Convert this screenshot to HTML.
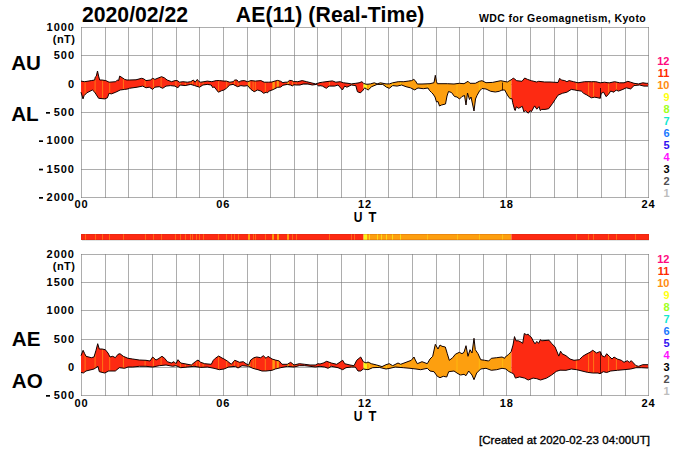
<!DOCTYPE html><html><head><meta charset="utf-8"><style>html,body{margin:0;padding:0;background:#fff;width:700px;height:450px;overflow:hidden}svg{display:block}text{font-family:"Liberation Sans",sans-serif;font-weight:bold}</style></head><body>
<svg width="700" height="450" viewBox="0 0 700 450">
<rect width="700" height="450" fill="#fff"/>
<path d="M81.5,27 V198 M105.5,27 V198 M128.5,27 V198 M152.5,27 V198 M176.5,27 V198 M199.5,27 V198 M223.5,27 V198 M247.5,27 V198 M270.5,27 V198 M294.5,27 V198 M317.5,27 V198 M341.5,27 V198 M365.5,27 V198 M388.5,27 V198 M412.5,27 V198 M436.5,27 V198 M459.5,27 V198 M483.5,27 V198 M506.5,27 V198 M530.5,27 V198 M554.5,27 V198 M577.5,27 V198 M601.5,27 V198 M625.5,27 V198 M648.5,27 V198" stroke="#7a7a7a" stroke-opacity="0.62" stroke-width="1" fill="none"/>
<path d="M81,27.5 H649 M81,55.5 H649 M81,84.5 H649 M81,112.5 H649 M81,140.5 H649 M81,169.5 H649 M81,197.5 H649" stroke="#7a7a7a" stroke-opacity="0.62" stroke-width="1" fill="none"/>
<path d="M81.5,254 V396 M105.5,254 V396 M128.5,254 V396 M152.5,254 V396 M176.5,254 V396 M199.5,254 V396 M223.5,254 V396 M247.5,254 V396 M270.5,254 V396 M294.5,254 V396 M317.5,254 V396 M341.5,254 V396 M365.5,254 V396 M388.5,254 V396 M412.5,254 V396 M436.5,254 V396 M459.5,254 V396 M483.5,254 V396 M506.5,254 V396 M530.5,254 V396 M554.5,254 V396 M577.5,254 V396 M601.5,254 V396 M625.5,254 V396 M648.5,254 V396" stroke="#7a7a7a" stroke-opacity="0.62" stroke-width="1" fill="none"/>
<path d="M81,254.5 H649 M81,282.5 H649 M81,310.5 H649 M81,339.5 H649 M81,367.5 H649 M81,395.5 H649" stroke="#7a7a7a" stroke-opacity="0.62" stroke-width="1" fill="none"/>
<clipPath id="c1"><path d="M81,81.1 L84.7,81.7 L91.3,80.6 L94.7,80 L95.2,77.2 L96.3,76.1 L97.5,71 L98.6,76.1 L99.7,80 L101.9,80 L105.8,80.6 L109.1,82.2 L115.8,81.7 L117.4,80 L118.6,80.6 L119.7,76.1 L122.4,77.8 L124.7,79.4 L126.9,80 L129.3,80 L136,79.8 L141.6,78.3 L143.8,78.9 L146,80.6 L150.4,80 L152.7,78.3 L154.9,79.4 L158.2,78 L161.6,76.7 L164.3,77.8 L167.1,80 L171.6,81.7 L174.9,80.6 L177.3,80.6 L179.6,82.2 L182.9,81.7 L187.3,82.2 L190.7,81.7 L193.4,80 L195.1,82.2 L197.3,79.4 L199,81.7 L200.7,82.2 L204,81.7 L207.3,81.1 L211.8,81.7 L216.2,80.6 L219.6,80.6 L224,81.1 L226.4,81.1 L229.8,82.2 L233.1,81.7 L234.8,80 L237,80 L238.7,82.2 L240.9,80.9 L244.2,80.6 L247.6,81.7 L250.9,80.6 L255.3,81.1 L260.9,80.6 L264.2,82.2 L268.7,82.2 L272,82 L274,81.3 L277.6,80.4 L280.7,81.3 L282.9,82.7 L285.1,82.2 L287.3,82.2 L289.6,80.4 L291.8,80.6 L293.6,81.6 L297.8,81.7 L302.2,80.6 L306.7,81.7 L311.1,82.8 L315.6,83.9 L320,82.6 L322.4,82.2 L329.1,81.3 L332.4,80.9 L335.8,82.2 L340.2,81.7 L343.6,82.8 L348,83.3 L351.3,83.9 L355.8,83.3 L359.1,82.8 L361.9,81.7 L363.6,83.3 L365.8,84.2 L368,84.2 L370.4,83.9 L374.3,82.8 L377.1,83.9 L380.4,82.8 L386,83.9 L389.3,83.9 L392.7,82.8 L398.2,81.7 L403.8,81.7 L408.2,81.1 L411.6,80.6 L413.8,79.4 L415.3,80.7 L417.3,84 L422,84 L430,83.7 L434,82.7 L435.3,75.3 L436.4,81.3 L437.3,83.7 L447.3,83.7 L454,84 L459.3,83.3 L464,83.7 L468,81.3 L470,83.3 L475.3,83.3 L479.3,81.3 L482,80.7 L486,82.7 L492.7,82.4 L500.7,80.7 L507.3,82 L512,79.3 L513.3,78 L516.7,80.7 L522,81.3 L524.7,78 L527.3,79.3 L531.3,80.7 L536.7,82 L538.7,81.3 L544.7,82 L550,82 L558,82.5 L559.7,78.3 L561.3,80 L564.7,80.6 L566.9,81.7 L569.1,80.6 L573.6,81.7 L578,82.8 L584.7,81.7 L591.3,81.7 L595.8,81.7 L600.2,82.8 L604.7,82.2 L608,82.8 L609.6,82.8 L614.6,81.7 L619.6,82.8 L624,82.8 L627.9,81.3 L630.7,82.2 L634,83.3 L638.4,83.9 L642.9,82.8 L646.2,83.3 L648,83.3 L648,86.1 L644,86.1 L639.6,85 L634,85.6 L630.7,88.9 L626.2,87.8 L622.9,89.4 L618.4,91.1 L616.2,90 L614,92.2 L610.7,91.1 L608.4,94.4 L606.2,96.7 L605.8,96.1 L603.6,92.2 L601.3,93.3 L599.8,98.3 L598,97.8 L594.7,97.2 L591.3,97.8 L586.9,95 L583.6,93.3 L581.3,91.1 L578,90.6 L574.7,90 L571.3,89.4 L566.9,92.2 L562.4,93.3 L558,95.2 L555.3,99.3 L552.7,103.3 L548.7,108.7 L545,109.4 L541.7,109.4 L540.3,110.6 L539,106.6 L536.8,109.2 L534.6,105.9 L531.4,111.7 L530.1,110.6 L528.3,113.2 L525.2,110.6 L523.9,111.9 L522.3,106.3 L518.6,108.3 L516.3,106.8 L515.2,110.5 L514.7,110 L512.7,102.7 L512,98.7 L510,98.7 L508,96 L504.7,90 L502,90 L499.3,91.3 L495.3,92 L490.7,91.3 L486,89 L482,88.5 L479.5,91 L477,95.5 L475.5,99 L474,111 L471,97 L469.5,99.5 L467.5,93 L466,105 L464.5,95.5 L462,96.5 L459.5,99 L457,97 L454.5,96.5 L451.5,92.5 L448.5,91.5 L447,96 L445.5,104 L441.5,105 L439.5,106 L438,101.5 L436.5,102 L435,97 L433,94 L431.5,92.5 L429.5,90.5 L428,88 L423.3,88.7 L418,88 L416,89 L414.9,90 L410.4,87.8 L406,86.7 L401.6,85 L397.1,86.1 L392.7,85.6 L389.3,88.3 L386.6,87.2 L382.7,84.4 L377.1,84.4 L371.6,86.7 L368.2,90 L366.5,89 L364.7,87.8 L362.4,91.1 L360.2,92.8 L357.4,91.7 L355.8,85.6 L351.3,85 L346.9,87.2 L344.7,86.1 L342.4,90 L338,85 L334.7,86.1 L329.1,86.1 L326.3,88.3 L322.4,86.1 L320,85.6 L318.9,86.1 L316.7,84.4 L312.2,85 L307.8,83.9 L303.3,83.9 L300,85 L296,85 L294,84.7 L292.2,86 L290.9,85.1 L287.3,84.4 L282.9,85.3 L280.7,87.1 L277.6,87.3 L273.1,89.6 L268.7,91.3 L267.3,93.1 L266.4,92.2 L263.7,93.3 L260.9,91.1 L257.6,90 L254.2,91.7 L250.9,89.4 L247.6,85.6 L244.2,86.1 L240.9,85.6 L237.6,86.7 L233.1,84.4 L229.8,85 L226.4,88.3 L224,90 L221.8,90.6 L218.4,92.2 L214,86.7 L212.9,87.8 L211.2,85 L207.3,84.4 L202.9,85 L199.6,87.2 L194.6,85.6 L190.7,84.4 L185.1,85.6 L180.1,85 L177.9,87.8 L174.9,86.1 L170.4,85.6 L166,86.1 L162.7,88.3 L159.3,86.7 L154.9,87.2 L152.7,89.4 L149.3,87.2 L146,87.8 L142.7,86.1 L137.1,87.2 L129.3,88.3 L128,88.9 L124.7,89.4 L120.2,90 L115.8,92.2 L111.3,93.9 L109.1,93.3 L107.4,97.8 L104.7,98.9 L98.6,98.3 L94.7,92.2 L92.4,90 L86.9,92.8 L84.1,95.6 L83,98.9 L81,92.2 Z"/></clipPath>
<g clip-path="url(#c1)">
<rect x="81" y="60" width="282.6" height="60" fill="#fd2a12"/>
<rect x="363.6" y="60" width="3.4" height="60" fill="#fbf41a"/>
<rect x="367" y="60" width="144.4" height="60" fill="#fd9f0f"/>
<rect x="511.4" y="60" width="137.6" height="60" fill="#fd2a12"/>
<rect x="84.6" y="60" width="1" height="60" fill="#ff7616"/>
<rect x="94.6" y="60" width="1" height="60" fill="#ff7616"/>
<rect x="102.1" y="60" width="1" height="60" fill="#ff7616"/>
<rect x="109.2" y="60" width="1" height="60" fill="#ff7616"/>
<rect x="122.9" y="60" width="1" height="60" fill="#ff7616"/>
<rect x="144.6" y="60" width="1" height="60" fill="#ff7616"/>
<rect x="152.9" y="60" width="1" height="60" fill="#ff7616"/>
<rect x="160.6" y="60" width="1" height="60" fill="#ff7616"/>
<rect x="175.4" y="60" width="1" height="60" fill="#ff7616"/>
<rect x="179.8" y="60" width="1" height="60" fill="#ff7616"/>
<rect x="184.8" y="60" width="1" height="60" fill="#ff7616"/>
<rect x="189.8" y="60" width="1" height="60" fill="#ff7616"/>
<rect x="191.9" y="60" width="1" height="60" fill="#ff7616"/>
<rect x="196.2" y="60" width="1" height="60" fill="#ff7616"/>
<rect x="199.1" y="60" width="1" height="60" fill="#ff7616"/>
<rect x="202.6" y="60" width="1" height="60" fill="#ff7616"/>
<rect x="218.1" y="60" width="1" height="60" fill="#ff7616"/>
<rect x="226.2" y="60" width="1" height="60" fill="#ff7616"/>
<rect x="230.5" y="60" width="1" height="60" fill="#ff7616"/>
<rect x="234.1" y="60" width="1" height="60" fill="#ff7616"/>
<rect x="237.6" y="60" width="1" height="60" fill="#ff7616"/>
<rect x="247.85" y="60" width="2.5" height="60" fill="#ff9a12"/>
<rect x="252.6" y="60" width="1" height="60" fill="#ff7616"/>
<rect x="254.8" y="60" width="1" height="60" fill="#ff7616"/>
<rect x="264.8" y="60" width="1" height="60" fill="#ff7616"/>
<rect x="272.35" y="60" width="2.5" height="60" fill="#ff9a12"/>
<rect x="276.7" y="60" width="2.2" height="60" fill="#ff9a12"/>
<rect x="286.9" y="60" width="2.2" height="60" fill="#ff9a12"/>
<rect x="291.9" y="60" width="1.2" height="60" fill="#ff7616"/>
<rect x="295.6" y="60" width="1" height="60" fill="#ff7616"/>
<rect x="328.9" y="60" width="1" height="60" fill="#ff7616"/>
<rect x="351.4" y="60" width="1" height="60" fill="#ff7616"/>
<rect x="353.5" y="60" width="1" height="60" fill="#ff7616"/>
<rect x="575.9" y="60" width="1" height="60" fill="#ff7616"/>
<rect x="588.1" y="60" width="1" height="60" fill="#ff7616"/>
<rect x="593.1" y="60" width="1" height="60" fill="#ff7616"/>
<rect x="608.1" y="60" width="1" height="60" fill="#ff7616"/>
<rect x="615.9" y="60" width="1" height="60" fill="#ff7616"/>
<rect x="635.2" y="60" width="1" height="60" fill="#ff7616"/>
<rect x="368.8" y="60" width="1" height="60" fill="#ffd80f" fill-opacity="0.8"/>
<rect x="377" y="60" width="1" height="60" fill="#ffd80f" fill-opacity="0.8"/>
<rect x="380.5" y="60" width="1" height="60" fill="#ffd80f" fill-opacity="0.8"/>
<rect x="385.8" y="60" width="1" height="60" fill="#ffd80f" fill-opacity="0.8"/>
<rect x="392" y="60" width="1" height="60" fill="#ffd80f" fill-opacity="0.8"/>
<rect x="400.1" y="60" width="1" height="60" fill="#ffd80f" fill-opacity="0.8"/>
<rect x="427.2" y="60" width="1" height="60" fill="#ffd80f" fill-opacity="0.48"/>
<rect x="456.5" y="60" width="1" height="60" fill="#ffd80f" fill-opacity="0.48"/>
<rect x="478.8" y="60" width="1" height="60" fill="#ffd80f" fill-opacity="0.48"/>
<rect x="502.1" y="60" width="1" height="60" fill="#ffd80f" fill-opacity="0.48"/>
</g>
<path d="M81,81.1 L84.7,81.7 L91.3,80.6 L94.7,80 L95.2,77.2 L96.3,76.1 L97.5,71 L98.6,76.1 L99.7,80 L101.9,80 L105.8,80.6 L109.1,82.2 L115.8,81.7 L117.4,80 L118.6,80.6 L119.7,76.1 L122.4,77.8 L124.7,79.4 L126.9,80 L129.3,80 L136,79.8 L141.6,78.3 L143.8,78.9 L146,80.6 L150.4,80 L152.7,78.3 L154.9,79.4 L158.2,78 L161.6,76.7 L164.3,77.8 L167.1,80 L171.6,81.7 L174.9,80.6 L177.3,80.6 L179.6,82.2 L182.9,81.7 L187.3,82.2 L190.7,81.7 L193.4,80 L195.1,82.2 L197.3,79.4 L199,81.7 L200.7,82.2 L204,81.7 L207.3,81.1 L211.8,81.7 L216.2,80.6 L219.6,80.6 L224,81.1 L226.4,81.1 L229.8,82.2 L233.1,81.7 L234.8,80 L237,80 L238.7,82.2 L240.9,80.9 L244.2,80.6 L247.6,81.7 L250.9,80.6 L255.3,81.1 L260.9,80.6 L264.2,82.2 L268.7,82.2 L272,82 L274,81.3 L277.6,80.4 L280.7,81.3 L282.9,82.7 L285.1,82.2 L287.3,82.2 L289.6,80.4 L291.8,80.6 L293.6,81.6 L297.8,81.7 L302.2,80.6 L306.7,81.7 L311.1,82.8 L315.6,83.9 L320,82.6 L322.4,82.2 L329.1,81.3 L332.4,80.9 L335.8,82.2 L340.2,81.7 L343.6,82.8 L348,83.3 L351.3,83.9 L355.8,83.3 L359.1,82.8 L361.9,81.7 L363.6,83.3 L365.8,84.2 L368,84.2 L370.4,83.9 L374.3,82.8 L377.1,83.9 L380.4,82.8 L386,83.9 L389.3,83.9 L392.7,82.8 L398.2,81.7 L403.8,81.7 L408.2,81.1 L411.6,80.6 L413.8,79.4 L415.3,80.7 L417.3,84 L422,84 L430,83.7 L434,82.7 L435.3,75.3 L436.4,81.3 L437.3,83.7 L447.3,83.7 L454,84 L459.3,83.3 L464,83.7 L468,81.3 L470,83.3 L475.3,83.3 L479.3,81.3 L482,80.7 L486,82.7 L492.7,82.4 L500.7,80.7 L507.3,82 L512,79.3 L513.3,78 L516.7,80.7 L522,81.3 L524.7,78 L527.3,79.3 L531.3,80.7 L536.7,82 L538.7,81.3 L544.7,82 L550,82 L558,82.5 L559.7,78.3 L561.3,80 L564.7,80.6 L566.9,81.7 L569.1,80.6 L573.6,81.7 L578,82.8 L584.7,81.7 L591.3,81.7 L595.8,81.7 L600.2,82.8 L604.7,82.2 L608,82.8 L609.6,82.8 L614.6,81.7 L619.6,82.8 L624,82.8 L627.9,81.3 L630.7,82.2 L634,83.3 L638.4,83.9 L642.9,82.8 L646.2,83.3 L648,83.3" stroke="#100000" stroke-width="1.0" fill="none" stroke-linejoin="round"/>
<path d="M81,92.2 L83,98.9 L84.1,95.6 L86.9,92.8 L92.4,90 L94.7,92.2 L98.6,98.3 L104.7,98.9 L107.4,97.8 L109.1,93.3 L111.3,93.9 L115.8,92.2 L120.2,90 L124.7,89.4 L128,88.9 L129.3,88.3 L137.1,87.2 L142.7,86.1 L146,87.8 L149.3,87.2 L152.7,89.4 L154.9,87.2 L159.3,86.7 L162.7,88.3 L166,86.1 L170.4,85.6 L174.9,86.1 L177.9,87.8 L180.1,85 L185.1,85.6 L190.7,84.4 L194.6,85.6 L199.6,87.2 L202.9,85 L207.3,84.4 L211.2,85 L212.9,87.8 L214,86.7 L218.4,92.2 L221.8,90.6 L224,90 L226.4,88.3 L229.8,85 L233.1,84.4 L237.6,86.7 L240.9,85.6 L244.2,86.1 L247.6,85.6 L250.9,89.4 L254.2,91.7 L257.6,90 L260.9,91.1 L263.7,93.3 L266.4,92.2 L267.3,93.1 L268.7,91.3 L273.1,89.6 L277.6,87.3 L280.7,87.1 L282.9,85.3 L287.3,84.4 L290.9,85.1 L292.2,86 L294,84.7 L296,85 L300,85 L303.3,83.9 L307.8,83.9 L312.2,85 L316.7,84.4 L318.9,86.1 L320,85.6 L322.4,86.1 L326.3,88.3 L329.1,86.1 L334.7,86.1 L338,85 L342.4,90 L344.7,86.1 L346.9,87.2 L351.3,85 L355.8,85.6 L357.4,91.7 L360.2,92.8 L362.4,91.1 L364.7,87.8 L366.5,89 L368.2,90 L371.6,86.7 L377.1,84.4 L382.7,84.4 L386.6,87.2 L389.3,88.3 L392.7,85.6 L397.1,86.1 L401.6,85 L406,86.7 L410.4,87.8 L414.9,90 L416,89 L418,88 L423.3,88.7 L428,88 L429.5,90.5 L431.5,92.5 L433,94 L435,97 L436.5,102 L438,101.5 L439.5,106 L441.5,105 L445.5,104 L447,96 L448.5,91.5 L451.5,92.5 L454.5,96.5 L457,97 L459.5,99 L462,96.5 L464.5,95.5 L466,105 L467.5,93 L469.5,99.5 L471,97 L474,111 L475.5,99 L477,95.5 L479.5,91 L482,88.5 L486,89 L490.7,91.3 L495.3,92 L499.3,91.3 L502,90 L504.7,90 L508,96 L510,98.7 L512,98.7 L512.7,102.7 L514.7,110 L515.2,110.5 L516.3,106.8 L518.6,108.3 L522.3,106.3 L523.9,111.9 L525.2,110.6 L528.3,113.2 L530.1,110.6 L531.4,111.7 L534.6,105.9 L536.8,109.2 L539,106.6 L540.3,110.6 L541.7,109.4 L545,109.4 L548.7,108.7 L552.7,103.3 L555.3,99.3 L558,95.2 L562.4,93.3 L566.9,92.2 L571.3,89.4 L574.7,90 L578,90.6 L581.3,91.1 L583.6,93.3 L586.9,95 L591.3,97.8 L594.7,97.2 L598,97.8 L599.8,98.3 L601.3,93.3 L603.6,92.2 L605.8,96.1 L606.2,96.7 L608.4,94.4 L610.7,91.1 L614,92.2 L616.2,90 L618.4,91.1 L622.9,89.4 L626.2,87.8 L630.7,88.9 L634,85.6 L639.6,85 L644,86.1 L648,86.1" stroke="#100000" stroke-width="1.0" fill="none" stroke-linejoin="round"/>
<clipPath id="c2"><path d="M81,355.7 L83.1,350.3 L84.7,353.7 L86,356.3 L91.3,357.7 L94,357 L96,350.3 L97.7,343.7 L99.3,349 L102,349 L105.3,349.7 L108,353 L110,357 L112.7,356.3 L115.3,357.7 L118,354.3 L120,353.7 L123.3,356.3 L128,358.3 L132.7,359 L139.3,360 L146,360.3 L150,361 L152.7,357 L156,360 L158,359 L162,356.3 L164.7,358.3 L167.3,361.7 L171.3,363 L174,361.7 L176,363.7 L178,359.7 L180.7,363 L186,364 L191.3,365 L195.3,361.7 L198,360 L200.7,362.3 L204.7,363.7 L211.3,364.3 L213.3,360.3 L215.3,358.3 L218.7,356 L222,358 L224,359 L227.3,361 L231.3,364.3 L234.7,360.3 L236.7,361 L239.3,362.3 L243.3,361.7 L246,363.7 L248.7,365 L250.7,360 L254,357.7 L256.7,357 L260.7,357.7 L263.3,355.7 L266,358.3 L268,356.3 L272,359 L275.3,360 L279.3,361 L282,364.3 L287.3,364.3 L290.7,362.3 L294,365 L299.3,363.7 L304.7,364.3 L310,365 L315.3,365 L318,363.7 L320,364 L323.3,363 L326.7,361.3 L331.3,363 L336.7,364.3 L342.7,360.3 L344.7,363.7 L350,365 L354,365.7 L356.7,360.3 L360.7,357 L363.3,361.7 L366,363 L368,362 L371.3,363.7 L376.7,365 L382,366.6 L386,364.7 L389.3,363.7 L392.7,365.7 L398,363 L400.7,364.3 L406,362.3 L411.3,360.3 L414,357 L415.3,360 L417.3,363.7 L422,361.7 L427.3,363.7 L430,359 L432.7,356.3 L435.3,344.3 L438,349 L440,345 L442,346.3 L445.3,347 L447.3,353.7 L449.3,360.3 L452.7,357.7 L455.3,354.3 L459.3,352.3 L462,353.7 L464,352.3 L466,345.7 L468,356.3 L470,349.7 L472,353 L474,338.3 L475.3,349.7 L478,353.7 L480.7,359.7 L484.7,360.3 L488.7,361 L491.3,358.3 L496.7,357.7 L502,357 L504.7,358.3 L505,357.3 L508.7,354.3 L511.1,351.8 L513,345.1 L514.5,336.6 L516,340.8 L518.4,340.8 L520.9,342 L522.7,343.3 L524.3,333.5 L526.4,334.7 L528.2,334.2 L529.5,336 L531.3,337.2 L533.1,340.8 L535,343.9 L536.8,341.4 L538.6,343.3 L540.5,339.6 L541.7,340.8 L549,340.2 L551.5,343.3 L555.1,347 L558.8,356.1 L560.6,351.2 L562,353.7 L566,355.7 L570,359 L574,360.3 L579.3,359.7 L582.7,356.3 L586,354.3 L590,352.3 L592.7,350.3 L596.7,353 L599.5,351.7 L600.5,352 L602,355.7 L604.7,357 L606.7,353.7 L609.3,356.3 L612,359 L614,357 L617.3,359 L621.3,360.3 L624,362.3 L627.3,360.7 L629.3,362.3 L631.3,360.7 L636,365.7 L638.7,366.3 L642.7,364.7 L648,364.7 L648,368 L641.3,367.7 L636,367.7 L630.7,369 L624,369.7 L617.3,370.3 L610.7,371 L606.7,372.5 L603.3,371.7 L600,373.7 L598,373 L592.7,373 L587.3,372.3 L582,371 L576.7,369.7 L571.3,369 L566,370.3 L560,370.2 L556.3,371.4 L551.5,375.1 L546.6,378.1 L540.5,380 L536.8,378.7 L533.1,378.1 L528.2,380 L524.6,378.1 L519.7,376.9 L515.4,378.1 L513.6,373.8 L511.1,372.6 L508.7,371.4 L506,369 L502,368.3 L496.7,369.7 L491.3,370.3 L486,368.3 L480.7,369 L476.7,373 L474,379.7 L472,375 L468.7,371 L466,375.7 L464,374.3 L460.7,375 L458,373.7 L454,371 L448.7,371.7 L446.7,377 L443.3,376.3 L440,377.7 L437.3,376.3 L434,371.7 L430,371 L427.3,368.3 L420.7,369.7 L416,369 L410,368.3 L403.3,367.7 L395.3,367 L390,368.3 L386,369 L379.3,367.4 L372.7,367.7 L368,369.7 L363.3,369 L360.7,371 L358,371 L355.3,367 L351.3,367 L346,367.7 L342.7,369.7 L338,367.7 L331.3,366.3 L328,368.3 L324.7,367 L320,366.3 L315.3,367 L310,366.3 L304.7,365.7 L299.3,365.7 L294,367 L287.3,366.3 L280.7,367.7 L275.3,369 L272,370.3 L266,371 L262,371 L258,369.7 L252.7,368.3 L248.7,366.3 L242,365.7 L238,368 L235.3,366.3 L228.7,367 L224,369 L219.3,369.7 L214,368.3 L207.3,367 L200.7,367.4 L194,366.3 L187.3,367 L180.7,367.7 L176,365.7 L172.7,366.3 L166,365 L159.3,365.7 L152.7,367 L146,366.3 L139.3,366.3 L132.7,367 L128,367 L124.7,368.3 L119.3,367.7 L115.3,371 L108.7,371 L104.7,373 L99.3,371.7 L98,366.3 L94,369 L86,371 L83.3,373 L81,372.3 Z"/></clipPath>
<g clip-path="url(#c2)">
<rect x="81" y="325" width="282.6" height="60" fill="#fd2a12"/>
<rect x="363.6" y="325" width="3.4" height="60" fill="#fbf41a"/>
<rect x="367" y="325" width="144.4" height="60" fill="#fd9f0f"/>
<rect x="511.4" y="325" width="137.6" height="60" fill="#fd2a12"/>
<rect x="84.6" y="325" width="1" height="60" fill="#ff7616"/>
<rect x="94.6" y="325" width="1" height="60" fill="#ff7616"/>
<rect x="102.1" y="325" width="1" height="60" fill="#ff7616"/>
<rect x="109.2" y="325" width="1" height="60" fill="#ff7616"/>
<rect x="122.9" y="325" width="1" height="60" fill="#ff7616"/>
<rect x="144.6" y="325" width="1" height="60" fill="#ff7616"/>
<rect x="152.9" y="325" width="1" height="60" fill="#ff7616"/>
<rect x="160.6" y="325" width="1" height="60" fill="#ff7616"/>
<rect x="175.4" y="325" width="1" height="60" fill="#ff7616"/>
<rect x="179.8" y="325" width="1" height="60" fill="#ff7616"/>
<rect x="184.8" y="325" width="1" height="60" fill="#ff7616"/>
<rect x="189.8" y="325" width="1" height="60" fill="#ff7616"/>
<rect x="191.9" y="325" width="1" height="60" fill="#ff7616"/>
<rect x="196.2" y="325" width="1" height="60" fill="#ff7616"/>
<rect x="199.1" y="325" width="1" height="60" fill="#ff7616"/>
<rect x="202.6" y="325" width="1" height="60" fill="#ff7616"/>
<rect x="218.1" y="325" width="1" height="60" fill="#ff7616"/>
<rect x="226.2" y="325" width="1" height="60" fill="#ff7616"/>
<rect x="230.5" y="325" width="1" height="60" fill="#ff7616"/>
<rect x="234.1" y="325" width="1" height="60" fill="#ff7616"/>
<rect x="237.6" y="325" width="1" height="60" fill="#ff7616"/>
<rect x="247.85" y="325" width="2.5" height="60" fill="#ff9a12"/>
<rect x="252.6" y="325" width="1" height="60" fill="#ff7616"/>
<rect x="254.8" y="325" width="1" height="60" fill="#ff7616"/>
<rect x="264.8" y="325" width="1" height="60" fill="#ff7616"/>
<rect x="272.35" y="325" width="2.5" height="60" fill="#ff9a12"/>
<rect x="276.7" y="325" width="2.2" height="60" fill="#ff9a12"/>
<rect x="286.9" y="325" width="2.2" height="60" fill="#ff9a12"/>
<rect x="291.9" y="325" width="1.2" height="60" fill="#ff7616"/>
<rect x="295.6" y="325" width="1" height="60" fill="#ff7616"/>
<rect x="328.9" y="325" width="1" height="60" fill="#ff7616"/>
<rect x="351.4" y="325" width="1" height="60" fill="#ff7616"/>
<rect x="353.5" y="325" width="1" height="60" fill="#ff7616"/>
<rect x="575.9" y="325" width="1" height="60" fill="#ff7616"/>
<rect x="588.1" y="325" width="1" height="60" fill="#ff7616"/>
<rect x="593.1" y="325" width="1" height="60" fill="#ff7616"/>
<rect x="608.1" y="325" width="1" height="60" fill="#ff7616"/>
<rect x="615.9" y="325" width="1" height="60" fill="#ff7616"/>
<rect x="635.2" y="325" width="1" height="60" fill="#ff7616"/>
<rect x="368.8" y="325" width="1" height="60" fill="#ffd80f" fill-opacity="0.8"/>
<rect x="377" y="325" width="1" height="60" fill="#ffd80f" fill-opacity="0.8"/>
<rect x="380.5" y="325" width="1" height="60" fill="#ffd80f" fill-opacity="0.8"/>
<rect x="385.8" y="325" width="1" height="60" fill="#ffd80f" fill-opacity="0.8"/>
<rect x="392" y="325" width="1" height="60" fill="#ffd80f" fill-opacity="0.8"/>
<rect x="400.1" y="325" width="1" height="60" fill="#ffd80f" fill-opacity="0.8"/>
<rect x="427.2" y="325" width="1" height="60" fill="#ffd80f" fill-opacity="0.48"/>
<rect x="456.5" y="325" width="1" height="60" fill="#ffd80f" fill-opacity="0.48"/>
<rect x="478.8" y="325" width="1" height="60" fill="#ffd80f" fill-opacity="0.48"/>
<rect x="502.1" y="325" width="1" height="60" fill="#ffd80f" fill-opacity="0.48"/>
</g>
<path d="M81,355.7 L83.1,350.3 L84.7,353.7 L86,356.3 L91.3,357.7 L94,357 L96,350.3 L97.7,343.7 L99.3,349 L102,349 L105.3,349.7 L108,353 L110,357 L112.7,356.3 L115.3,357.7 L118,354.3 L120,353.7 L123.3,356.3 L128,358.3 L132.7,359 L139.3,360 L146,360.3 L150,361 L152.7,357 L156,360 L158,359 L162,356.3 L164.7,358.3 L167.3,361.7 L171.3,363 L174,361.7 L176,363.7 L178,359.7 L180.7,363 L186,364 L191.3,365 L195.3,361.7 L198,360 L200.7,362.3 L204.7,363.7 L211.3,364.3 L213.3,360.3 L215.3,358.3 L218.7,356 L222,358 L224,359 L227.3,361 L231.3,364.3 L234.7,360.3 L236.7,361 L239.3,362.3 L243.3,361.7 L246,363.7 L248.7,365 L250.7,360 L254,357.7 L256.7,357 L260.7,357.7 L263.3,355.7 L266,358.3 L268,356.3 L272,359 L275.3,360 L279.3,361 L282,364.3 L287.3,364.3 L290.7,362.3 L294,365 L299.3,363.7 L304.7,364.3 L310,365 L315.3,365 L318,363.7 L320,364 L323.3,363 L326.7,361.3 L331.3,363 L336.7,364.3 L342.7,360.3 L344.7,363.7 L350,365 L354,365.7 L356.7,360.3 L360.7,357 L363.3,361.7 L366,363 L368,362 L371.3,363.7 L376.7,365 L382,366.6 L386,364.7 L389.3,363.7 L392.7,365.7 L398,363 L400.7,364.3 L406,362.3 L411.3,360.3 L414,357 L415.3,360 L417.3,363.7 L422,361.7 L427.3,363.7 L430,359 L432.7,356.3 L435.3,344.3 L438,349 L440,345 L442,346.3 L445.3,347 L447.3,353.7 L449.3,360.3 L452.7,357.7 L455.3,354.3 L459.3,352.3 L462,353.7 L464,352.3 L466,345.7 L468,356.3 L470,349.7 L472,353 L474,338.3 L475.3,349.7 L478,353.7 L480.7,359.7 L484.7,360.3 L488.7,361 L491.3,358.3 L496.7,357.7 L502,357 L504.7,358.3 L505,357.3 L508.7,354.3 L511.1,351.8 L513,345.1 L514.5,336.6 L516,340.8 L518.4,340.8 L520.9,342 L522.7,343.3 L524.3,333.5 L526.4,334.7 L528.2,334.2 L529.5,336 L531.3,337.2 L533.1,340.8 L535,343.9 L536.8,341.4 L538.6,343.3 L540.5,339.6 L541.7,340.8 L549,340.2 L551.5,343.3 L555.1,347 L558.8,356.1 L560.6,351.2 L562,353.7 L566,355.7 L570,359 L574,360.3 L579.3,359.7 L582.7,356.3 L586,354.3 L590,352.3 L592.7,350.3 L596.7,353 L599.5,351.7 L600.5,352 L602,355.7 L604.7,357 L606.7,353.7 L609.3,356.3 L612,359 L614,357 L617.3,359 L621.3,360.3 L624,362.3 L627.3,360.7 L629.3,362.3 L631.3,360.7 L636,365.7 L638.7,366.3 L642.7,364.7 L648,364.7" stroke="#100000" stroke-width="1.0" fill="none" stroke-linejoin="round"/>
<path d="M81,372.3 L83.3,373 L86,371 L94,369 L98,366.3 L99.3,371.7 L104.7,373 L108.7,371 L115.3,371 L119.3,367.7 L124.7,368.3 L128,367 L132.7,367 L139.3,366.3 L146,366.3 L152.7,367 L159.3,365.7 L166,365 L172.7,366.3 L176,365.7 L180.7,367.7 L187.3,367 L194,366.3 L200.7,367.4 L207.3,367 L214,368.3 L219.3,369.7 L224,369 L228.7,367 L235.3,366.3 L238,368 L242,365.7 L248.7,366.3 L252.7,368.3 L258,369.7 L262,371 L266,371 L272,370.3 L275.3,369 L280.7,367.7 L287.3,366.3 L294,367 L299.3,365.7 L304.7,365.7 L310,366.3 L315.3,367 L320,366.3 L324.7,367 L328,368.3 L331.3,366.3 L338,367.7 L342.7,369.7 L346,367.7 L351.3,367 L355.3,367 L358,371 L360.7,371 L363.3,369 L368,369.7 L372.7,367.7 L379.3,367.4 L386,369 L390,368.3 L395.3,367 L403.3,367.7 L410,368.3 L416,369 L420.7,369.7 L427.3,368.3 L430,371 L434,371.7 L437.3,376.3 L440,377.7 L443.3,376.3 L446.7,377 L448.7,371.7 L454,371 L458,373.7 L460.7,375 L464,374.3 L466,375.7 L468.7,371 L472,375 L474,379.7 L476.7,373 L480.7,369 L486,368.3 L491.3,370.3 L496.7,369.7 L502,368.3 L506,369 L508.7,371.4 L511.1,372.6 L513.6,373.8 L515.4,378.1 L519.7,376.9 L524.6,378.1 L528.2,380 L533.1,378.1 L536.8,378.7 L540.5,380 L546.6,378.1 L551.5,375.1 L556.3,371.4 L560,370.2 L566,370.3 L571.3,369 L576.7,369.7 L582,371 L587.3,372.3 L592.7,373 L598,373 L600,373.7 L603.3,371.7 L606.7,372.5 L610.7,371 L617.3,370.3 L624,369.7 L630.7,369 L636,367.7 L641.3,367.7 L648,368" stroke="#100000" stroke-width="1.0" fill="none" stroke-linejoin="round"/>
<path d="M502.5,82.5 V90.5" stroke="#200000" stroke-opacity="0.8" stroke-width="1"/>
<path d="M600.5,88 V98.5" stroke="#200000" stroke-opacity="0.9" stroke-width="1"/>
<path d="M600.5,351.5 V374" stroke="#200000" stroke-opacity="0.7" stroke-width="1"/>
<g>
<rect x="81" y="234" width="282.6" height="6" fill="#fd2a12"/>
<rect x="363.6" y="234" width="3.4" height="6" fill="#fbf41a"/>
<rect x="367" y="234" width="144.4" height="6" fill="#fd9f0f"/>
<rect x="511.4" y="234" width="137.6" height="6" fill="#fd2a12"/>
<rect x="85" y="234" width="1" height="6" fill="#ff8414" fill-opacity="0.7"/>
<rect x="95" y="234" width="1" height="6" fill="#ff8414" fill-opacity="0.7"/>
<rect x="102" y="234" width="1" height="6" fill="#ff8414" fill-opacity="0.7"/>
<rect x="109" y="234" width="1" height="6" fill="#ff8414" fill-opacity="0.7"/>
<rect x="123" y="234" width="1" height="6" fill="#ff8414" fill-opacity="0.7"/>
<rect x="145" y="234" width="1" height="6" fill="#ff8414" fill-opacity="0.7"/>
<rect x="153" y="234" width="1" height="6" fill="#ff8414" fill-opacity="0.7"/>
<rect x="161" y="234" width="1" height="6" fill="#ff8414" fill-opacity="0.7"/>
<rect x="175" y="234" width="1" height="6" fill="#ff8414" fill-opacity="0.7"/>
<rect x="180" y="234" width="1" height="6" fill="#ff8414" fill-opacity="0.7"/>
<rect x="185" y="234" width="1" height="6" fill="#ff8414" fill-opacity="0.7"/>
<rect x="190" y="234" width="1" height="6" fill="#ff8414" fill-opacity="0.7"/>
<rect x="192" y="234" width="1" height="6" fill="#ff8414" fill-opacity="0.7"/>
<rect x="196" y="234" width="1" height="6" fill="#ff8414" fill-opacity="0.7"/>
<rect x="199" y="234" width="1" height="6" fill="#ff8414" fill-opacity="0.7"/>
<rect x="203" y="234" width="1" height="6" fill="#ff8414" fill-opacity="0.7"/>
<rect x="218" y="234" width="1" height="6" fill="#ff8414" fill-opacity="0.7"/>
<rect x="226" y="234" width="1" height="6" fill="#ff8414" fill-opacity="0.7"/>
<rect x="231" y="234" width="1" height="6" fill="#ff8414" fill-opacity="0.7"/>
<rect x="234" y="234" width="1" height="6" fill="#ff8414" fill-opacity="0.7"/>
<rect x="238" y="234" width="1" height="6" fill="#ff8414" fill-opacity="0.7"/>
<rect x="248" y="234" width="2" height="6" fill="#fd9f0f" fill-opacity="1"/>
<rect x="253" y="234" width="1" height="6" fill="#ff8414" fill-opacity="0.7"/>
<rect x="255" y="234" width="1" height="6" fill="#ff8414" fill-opacity="0.7"/>
<rect x="265" y="234" width="1" height="6" fill="#ff8414" fill-opacity="0.7"/>
<rect x="272" y="234" width="2" height="6" fill="#fd9f0f" fill-opacity="1"/>
<rect x="277" y="234" width="2" height="6" fill="#fd9f0f" fill-opacity="1"/>
<rect x="287" y="234" width="2" height="6" fill="#fd9f0f" fill-opacity="1"/>
<rect x="292" y="234" width="1" height="6" fill="#ff8414" fill-opacity="0.7"/>
<rect x="296" y="234" width="1" height="6" fill="#ff8414" fill-opacity="0.7"/>
<rect x="329" y="234" width="1" height="6" fill="#ff8414" fill-opacity="0.7"/>
<rect x="351" y="234" width="1" height="6" fill="#ff8414" fill-opacity="0.7"/>
<rect x="354" y="234" width="1" height="6" fill="#ff8414" fill-opacity="0.7"/>
<rect x="576" y="234" width="1" height="6" fill="#ff8414" fill-opacity="0.7"/>
<rect x="588" y="234" width="1" height="6" fill="#ff8414" fill-opacity="0.7"/>
<rect x="593" y="234" width="1" height="6" fill="#ff8414" fill-opacity="0.7"/>
<rect x="608" y="234" width="1" height="6" fill="#ff8414" fill-opacity="0.7"/>
<rect x="616" y="234" width="1" height="6" fill="#ff8414" fill-opacity="0.7"/>
<rect x="635" y="234" width="1" height="6" fill="#ff8414" fill-opacity="0.7"/>
<rect x="369" y="234" width="1" height="6" fill="#fbf41a" fill-opacity="0.7"/>
<rect x="377" y="234" width="1" height="6" fill="#fbf41a" fill-opacity="0.7"/>
<rect x="381" y="234" width="1" height="6" fill="#fbf41a" fill-opacity="0.7"/>
<rect x="386" y="234" width="1" height="6" fill="#fbf41a" fill-opacity="0.7"/>
<rect x="392" y="234" width="1" height="6" fill="#fbf41a" fill-opacity="0.7"/>
<rect x="400" y="234" width="1" height="6" fill="#fbf41a" fill-opacity="0.7"/>
<rect x="427" y="234" width="1" height="6" fill="#fbf41a" fill-opacity="0.42"/>
<rect x="457" y="234" width="1" height="6" fill="#fbf41a" fill-opacity="0.42"/>
<rect x="479" y="234" width="1" height="6" fill="#fbf41a" fill-opacity="0.42"/>
<rect x="502" y="234" width="1" height="6" fill="#fbf41a" fill-opacity="0.42"/>
<rect x="81.5" y="234.5" width="567" height="5" fill="none" stroke="#a02010" stroke-opacity="0.18" stroke-width="1"/>
<rect x="82" y="240" width="567" height="1" fill="#c0c8c8" fill-opacity="0.5"/>
</g>
<text x="82" y="21.8" font-size="21.2" fill="#000">2020/02/22</text>
<text x="235.8" y="21.8" font-size="21.2" letter-spacing="0.1" fill="#000">AE(11) (Real-Time)</text>
<text x="479" y="22" font-size="10.5" letter-spacing="0.4" fill="#000">WDC for Geomagnetism, Kyoto</text>
<text x="11.2" y="69.7" font-size="20.6" fill="#000">AU</text>
<text x="11.2" y="120.9" font-size="20.6" fill="#000">AL</text>
<text x="11.8" y="346.1" font-size="20.6" fill="#000">AE</text>
<text x="11.8" y="388.4" font-size="20.6" fill="#000">AO</text>
<text x="75" y="31" font-size="11" text-anchor="end" letter-spacing="1" fill="#000">1000</text>
<text x="75.5" y="42.8" font-size="11" text-anchor="end" letter-spacing="0.5" fill="#000">(nT)</text>
<text x="75" y="59.3" font-size="11" text-anchor="end" letter-spacing="1" fill="#000">500</text>
<text x="75" y="87.7" font-size="11" text-anchor="end" letter-spacing="1" fill="#000">0</text>
<rect x="46" y="112" width="4" height="1.7" fill="#000"/>
<text x="75" y="116" font-size="11" text-anchor="end" letter-spacing="1" fill="#000">500</text>
<rect x="39" y="140.3" width="4" height="1.7" fill="#000"/>
<text x="75" y="144.3" font-size="11" text-anchor="end" letter-spacing="1" fill="#000">1000</text>
<rect x="39" y="168.7" width="4" height="1.7" fill="#000"/>
<text x="75" y="172.7" font-size="11" text-anchor="end" letter-spacing="1" fill="#000">1500</text>
<rect x="39" y="197" width="4" height="1.7" fill="#000"/>
<text x="75" y="201" font-size="11" text-anchor="end" letter-spacing="1" fill="#000">2000</text>
<text x="75" y="258" font-size="11" text-anchor="end" letter-spacing="1" fill="#000">2000</text>
<text x="75.5" y="269.6" font-size="11" text-anchor="end" letter-spacing="0.5" fill="#000">(nT)</text>
<text x="75" y="286.2" font-size="11" text-anchor="end" letter-spacing="1" fill="#000">1500</text>
<text x="75" y="314.4" font-size="11" text-anchor="end" letter-spacing="1" fill="#000">1000</text>
<text x="75" y="342.6" font-size="11" text-anchor="end" letter-spacing="1" fill="#000">500</text>
<text x="75" y="370.8" font-size="11" text-anchor="end" letter-spacing="1" fill="#000">0</text>
<rect x="46" y="395" width="4" height="1.7" fill="#000"/>
<text x="75" y="399" font-size="11" text-anchor="end" letter-spacing="1" fill="#000">500</text>
<text x="81.5" y="208" font-size="11" text-anchor="middle" letter-spacing="1" fill="#000">00</text>
<text x="223.25" y="208" font-size="11" text-anchor="middle" letter-spacing="1" fill="#000">06</text>
<text x="365" y="208" font-size="11" text-anchor="middle" letter-spacing="1" fill="#000">12</text>
<text x="506.75" y="208" font-size="11" text-anchor="middle" letter-spacing="1" fill="#000">18</text>
<text x="648.5" y="208" font-size="11" text-anchor="middle" letter-spacing="1" fill="#000">24</text>
<text x="81.5" y="406.5" font-size="11" text-anchor="middle" letter-spacing="1" fill="#000">00</text>
<text x="223.25" y="406.5" font-size="11" text-anchor="middle" letter-spacing="1" fill="#000">06</text>
<text x="365" y="406.5" font-size="11" text-anchor="middle" letter-spacing="1" fill="#000">12</text>
<text x="506.75" y="406.5" font-size="11" text-anchor="middle" letter-spacing="1" fill="#000">18</text>
<text x="648.5" y="406.5" font-size="11" text-anchor="middle" letter-spacing="1" fill="#000">24</text>
<text transform="translate(358.1,221.6) scale(0.86,1)" x="0" y="0" font-size="14" text-anchor="middle">U</text>
<text transform="translate(372.4,221.6) scale(0.92,1)" x="0" y="0" font-size="14" text-anchor="middle">T</text>
<text transform="translate(358.1,420.6) scale(0.86,1)" x="0" y="0" font-size="14" text-anchor="middle">U</text>
<text transform="translate(372.4,420.6) scale(0.92,1)" x="0" y="0" font-size="14" text-anchor="middle">T</text>
<text x="669.5" y="65" font-size="11" text-anchor="end" fill="#ff0a80">12</text>
<text x="669.5" y="263.3" font-size="11" text-anchor="end" fill="#ff0a80">12</text>
<text x="669.5" y="77" font-size="11" text-anchor="end" fill="#ff2a00">11</text>
<text x="669.5" y="275.3" font-size="11" text-anchor="end" fill="#ff2a00">11</text>
<text x="669.5" y="89" font-size="11" text-anchor="end" fill="#ff8c10">10</text>
<text x="669.5" y="287.3" font-size="11" text-anchor="end" fill="#ff8c10">10</text>
<text x="669.5" y="101" font-size="11" text-anchor="end" fill="#ffff10">9</text>
<text x="669.5" y="299.3" font-size="11" text-anchor="end" fill="#ffff10">9</text>
<text x="669.5" y="113" font-size="11" text-anchor="end" fill="#a0ff20">8</text>
<text x="669.5" y="311.3" font-size="11" text-anchor="end" fill="#a0ff20">8</text>
<text x="669.5" y="125" font-size="11" text-anchor="end" fill="#10e8d0">7</text>
<text x="669.5" y="323.3" font-size="11" text-anchor="end" fill="#10e8d0">7</text>
<text x="669.5" y="137" font-size="11" text-anchor="end" fill="#1a78ff">6</text>
<text x="669.5" y="335.3" font-size="11" text-anchor="end" fill="#1a78ff">6</text>
<text x="669.5" y="149" font-size="11" text-anchor="end" fill="#3010f0">5</text>
<text x="669.5" y="347.3" font-size="11" text-anchor="end" fill="#3010f0">5</text>
<text x="669.5" y="161" font-size="11" text-anchor="end" fill="#ff10ff">4</text>
<text x="669.5" y="359.3" font-size="11" text-anchor="end" fill="#ff10ff">4</text>
<text x="669.5" y="173" font-size="11" text-anchor="end" fill="#000000">3</text>
<text x="669.5" y="371.3" font-size="11" text-anchor="end" fill="#000000">3</text>
<text x="669.5" y="185" font-size="11" text-anchor="end" fill="#505050">2</text>
<text x="669.5" y="383.3" font-size="11" text-anchor="end" fill="#505050">2</text>
<text x="669.5" y="197" font-size="11" text-anchor="end" fill="#bdbdbd">1</text>
<text x="669.5" y="395.3" font-size="11" text-anchor="end" fill="#bdbdbd">1</text>
<text x="479" y="443.7" font-size="11.5" letter-spacing="0.05" fill="#000" style="font-weight:normal" stroke="#000" stroke-width="0.35">[Created at 2020-02-23 04:00UT]</text>
</svg></body></html>
